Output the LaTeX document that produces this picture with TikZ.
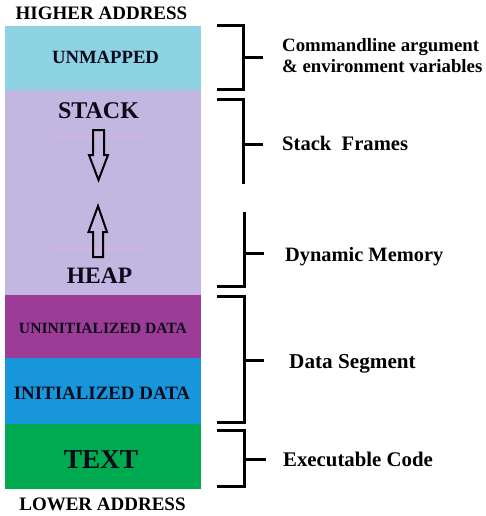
\documentclass[tikz,border=0pt]{standalone}
\usepackage{fontspec}
\setmainfont{Liberation Serif}
\definecolor{cUnm}{RGB}{141,211,228}
\definecolor{cStk}{RGB}{193,183,224}
\definecolor{cUni}{RGB}{156,60,150}
\definecolor{cIni}{RGB}{24,150,220}
\definecolor{cTxt}{RGB}{0,170,80}
\definecolor{cInk}{RGB}{10,10,25}
\definecolor{cPink}{RGB}{226,176,214}
\newcommand{\fs}[1]{\fontsize{#1}{#1}\selectfont\bfseries}
\tikzset{
  seg/.style={draw=none, minimum width=196pt, inner sep=0pt},
  segtxt/.style={anchor=base, inner sep=0pt, text=cInk},
  brk/.style={line width=3pt, black},
  lbl/.style={anchor=base west, inner sep=0pt, text=black},
  blk/.style={draw=black, line width=2pt, fill=none, line join=miter},
}
\begin{document}
\begin{tikzpicture}[x=1pt,y=-1pt]
\useasboundingbox[fill=white] (0,0) rectangle (486,516);
% segments
\node[seg, fill=cUnm, minimum height=64pt] (unm) at (103,58) {};
\node[seg, fill=cStk, minimum height=205pt] (stk) at (103,192.5) {};
\node[seg, fill=cUni, minimum height=63pt] (uni) at (103,326.5) {};
\node[seg, fill=cIni, minimum height=66pt] (ini) at (103,391) {};
\node[seg, fill=cTxt, minimum height=65pt] (txt) at (103,456.5) {};
% segment texts
\node[segtxt, font=\fs{18.7}] (unmt) at (105.5,64) {UNMAPPED};
\node[segtxt, font=\fs{24}] (stack) at (98.5,118) {STACK};
\node[segtxt, font=\fs{23.5}] (heap) at (99.5,283) {HEAP};
\node[segtxt, font=\fs{15.6}] (unit) at (103,333) {UNINITIALIZED DATA};
\node[segtxt, font=\fs{18.9}] (init) at (102,399) {INITIALIZED DATA};
\node[segtxt, font=\fs{27.3}] (txtt) at (101,468) {TEXT};
% titles
\node[segtxt, text=black, font=\fs{19}] (hi) at (101.5,20) {HIGHER ADDRESS};
\node[segtxt, text=black, font=\fs{19}] (lo) at (102.5,510) {LOWER ADDRESS};
% faint lines
\draw[cPink, line width=0.8pt] (55,136) -- (145,136);
\draw[cPink, line width=0.8pt] (50,248) -- (145,248);
% arrows
\draw[blk] (93,130) -- (104,130) -- (104,155) -- (108,155) -- (98.5,180) -- (89,155) -- (93,155) -- cycle;
\draw[blk] (98,206) -- (107,232) -- (103,232) -- (103,257) -- (93,257) -- (93,232) -- (88.5,232) -- cycle;
% brackets
\draw[brk] (217,26) -- (243,26) -- (243,90) -- (217,90);
\draw[brk] (243,58) coordinate (t1) -- (263,58) coordinate (e1);
\draw[brk] (217,100) -- (243,100) -- (243,184);
\draw[brk] (243,144) coordinate (t2) -- (263,144) coordinate (e2);
\draw[brk] (244,212) -- (244,286) -- (217,286);
\draw[brk] (244,253) coordinate (t3) -- (264,253) coordinate (e3);
\draw[brk] (217,296) -- (244,296) -- (244,422) -- (217,422);
\draw[brk] (244,360) coordinate (t4) -- (264,360) coordinate (e4);
\draw[brk] (217,430) -- (244,430) -- (244,486) -- (217,486);
\draw[brk] (244,459) coordinate (t5) -- (266,459) coordinate (e5);
% labels
\node[lbl, font=\fs{18.8}] (l1a) at (282,52) {Commandline argument};
\node[lbl, font=\fs{18.8}] (l1b) at (282,73) {\& environment variables};
\node[lbl, font=\fs{20.6}] (l2) at (282,150) {Stack\ \ Frames};
\node[lbl, font=\fs{20.4}] (l3) at (285,261) {Dynamic Memory};
\node[lbl, font=\fs{21.2}] (l4) at (289,368) {Data Segment};
\node[lbl, font=\fs{20.8}] (l5) at (283,466) {Executable Code};
\end{tikzpicture}
\end{document}
